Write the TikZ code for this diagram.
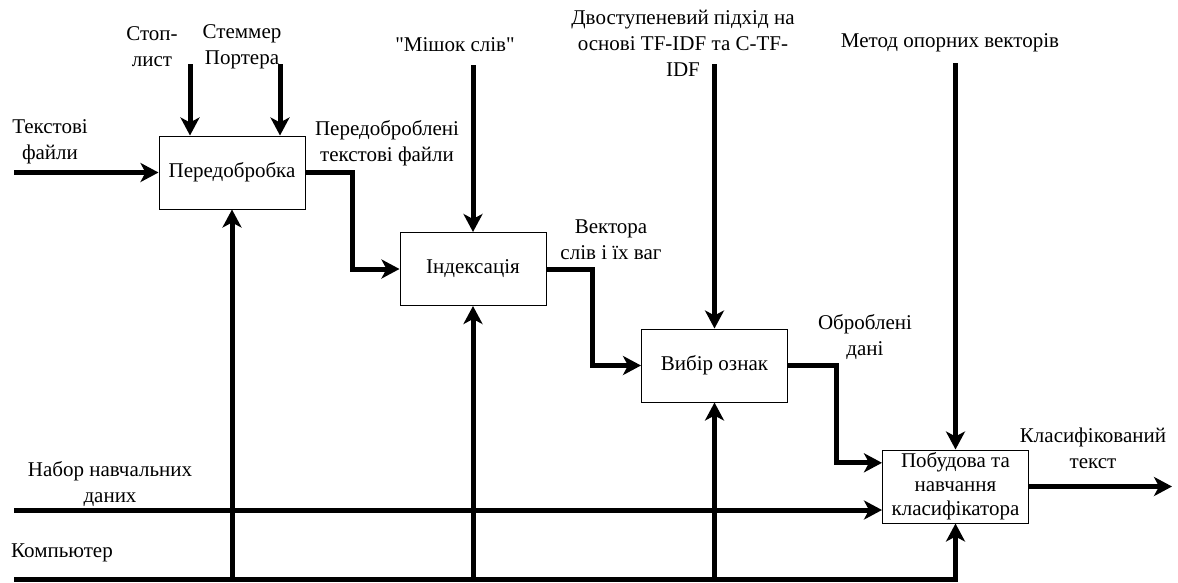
\documentclass[tikz,border=0pt]{standalone}
\usepackage{fontspec}
\setmainfont{Liberation Serif}[Ligatures=TeXOff]
\newfontfamily\dfont{Liberation Serif}[Ligatures=TeXOff]
\usetikzlibrary{arrows.meta,calc}
\begin{document}
\begin{tikzpicture}[x=1pt,y=-1pt,
  box/.style={draw, line width=1pt, minimum width=146pt, minimum height=73pt, inner sep=0pt, align=center, font=\dfont\fontsize{21}{24}\selectfont},
  lbl/.style={align=center, inner sep=0pt, font=\dfont\fontsize{21}{26}\selectfont},
  flow/.style={line width=5pt, line join=miter, -{Stealth[length=18pt,width=19pt,inset=5pt]}}]
\useasboundingbox (0,0) rectangle (1178,582);

% boxes
\node[box] (b1) at (232,172.5) {Передобробка};
\node[box] (b2) at (473,269) {Індексація};
\node[box] (b3) at (714.5,365.5) {Вибір ознак};
\node[box] (b4) at (955.5,486.5) {Побудова та\\навчання\\класифікатора};

% labels
\node[lbl] (lTF) at (50,142) {Текстові\\файли};
\node[lbl] (lStop) at (152,47) {Стоп-\\лист};
\node[lbl] (lStem) at (242,47) {Стеммер\\Портера};
\node[lbl] (lPre) at (387,143) {Передоброблені\\текстові файли};
\node[lbl] (lBag) at (455,45) {"Мішок слів"};
\node[lbl] (lTwo) at (683,43) {Двоступеневий підхід на\\основі TF-IDF та C-TF-\\IDF};
\node[lbl] (lVec) at (611,240) {Вектора\\слів і їх ваг};
\node[lbl] (lSVM) at (950,43) {Метод опорних векторів};
\node[lbl] (lProc) at (865,337) {Оброблені\\дані};
\node[lbl] (lCls) at (1093,448) {Класифікований\\текст};
\node[lbl] (lSet) at (110,484) {Набор навчальних\\даних};
\node[lbl] (lComp) at (62,553) {Компьютер};

% free ends
\coordinate (tfin) at (14,172.5);
\coordinate (stopin) at (190,64);
\coordinate (stemin) at (280,64);
\coordinate (bagin) at (473,65);
\coordinate (twoin) at (714.5,64);
\coordinate (svmin) at (955.5,63);
\coordinate (setin) at (14,510);
\coordinate (compin) at (14,579);
\coordinate (clsout) at (1172,486.5);

% inputs
\draw[flow] (tfin) -- (b1.west);
\draw[flow] (setin) -- (setin -| b4.west);

% controls
\draw[flow] (stopin) -- (stopin |- b1.north);
\draw[flow] (stemin) -- (stemin |- b1.north);
\draw[flow] (bagin) -- (b2.north);
\draw[flow] (twoin) -- (b3.north);
\draw[flow] (svmin) -- (b4.north);

% flows between boxes
\draw[flow] (b1.east) -- ++(47,0) |- (b2.west);
\draw[flow] (b2.east) -- ++(46,0) |- (b3.west);
\draw[flow] (b3.east) -- ++(48,0) |- ($(b4.north west)!0.18!(b4.south west)$);

% output
\draw[flow] (b4.east) -- (clsout);

% mechanisms
\draw[flow] (compin) -| (b4.south);
\draw[flow] (b1.south |- compin) -- (b1.south);
\draw[flow] (b2.south |- compin) -- (b2.south);
\draw[flow] (b3.south |- compin) -- (b3.south);
\end{tikzpicture}
\end{document}
